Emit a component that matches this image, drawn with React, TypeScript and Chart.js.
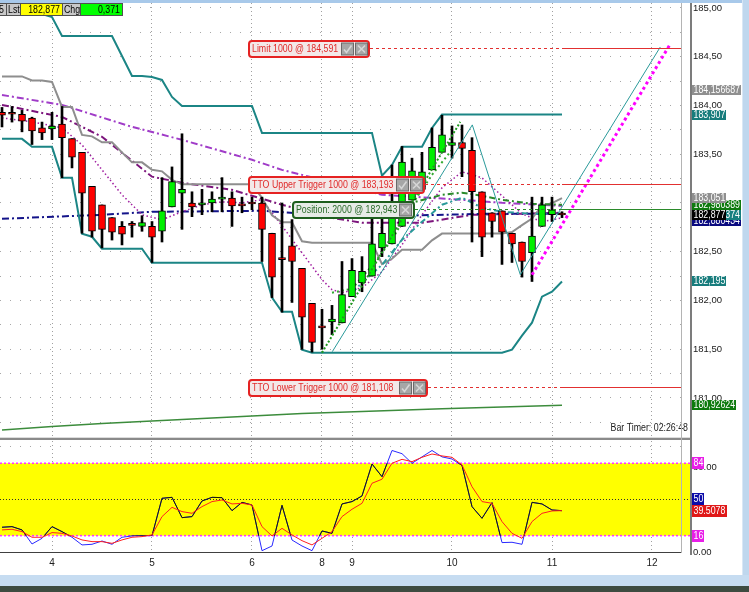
import React, { useEffect, useRef } from 'react';
import { Chart, registerables } from 'chart.js';
Chart.register(...registerables);

const FONT = '"Liberation Sans", Arial, sans-serif';

// ---------------- DATA ----------------
const OPEN = [183.93, 183.92, 183.91, 183.87, 183.77, 183.76, 183.81, 183.66, 183.52, 183.17, 182.98, 182.85, 182.76, 182.78, 182.76, 182.76, 182.71, 182.96, 183.10, 183.00, 182.98, 183.00, 183.04, 183.05, 182.99, 183.00, 183.00, 182.69, 182.43, 182.56, 182.33, 181.97, 181.74, 181.78, 181.77, 182.04, 182.18, 182.25, 182.54, 182.58, 182.76, 183.03, 183.14, 183.34, 183.52, 183.59, 183.62, 183.54, 183.115, 182.90, 182.92, 182.69, 182.60, 182.49, 182.76, 182.88, 182.88];
const HIGH = [183.98, 183.99, 183.95, 183.88, 183.83, 183.93, 183.99, 183.66, 183.52, 183.17, 182.98, 182.85, 182.81, 182.81, 182.87, 182.81, 183.26, 183.37, 183.71, 183.115, 183.14, 183.115, 183.26, 183.115, 183.06, 183.06, 183.06, 182.69, 183.00, 182.83, 182.33, 181.97, 181.91, 181.95, 182.40, 182.43, 182.45, 182.84, 182.84, 183.39, 183.58, 183.46, 183.52, 183.77, 183.90, 183.79, 183.80, 183.67, 183.115, 182.90, 182.92, 182.69, 182.60, 183.06, 183.06, 183.06, 182.91];
const LOW = [183.78, 183.83, 183.73, 183.60, 183.65, 183.65, 183.26, 183.36, 182.69, 182.65, 182.54, 182.62, 182.57, 182.65, 182.71, 182.39, 182.60, 182.96, 182.73, 182.86, 182.88, 182.91, 182.91, 182.76, 182.90, 182.93, 182.40, 182.03, 181.88, 181.98, 181.50, 181.47, 181.50, 181.65, 181.77, 182.04, 182.09, 182.25, 182.45, 182.58, 182.76, 183.03, 183.14, 183.34, 183.52, 183.46, 183.27, 182.60, 182.45, 182.65, 182.37, 182.39, 182.24, 182.195, 182.76, 182.81, 182.85];
const CLOSE = [183.90, 183.91, 183.84, 183.74, 183.72, 183.79, 183.67, 183.47, 183.10, 182.71, 182.73, 182.70, 182.68, 182.77, 182.80, 182.65, 182.92, 183.22, 183.14, 182.96, 183.00, 183.04, 183.06, 182.97, 182.97, 182.99, 182.73, 182.24, 182.42, 182.40, 181.83, 181.57, 181.72, 181.81, 182.06, 182.31, 182.30, 182.58, 182.69, 182.85, 183.42, 183.33, 183.32, 183.57, 183.70, 183.62, 183.56, 183.115, 182.65, 182.81, 182.70, 182.58, 182.40, 182.66, 182.98, 182.93, 182.877];

// Donchian channel (20 bars)
const UPPER = [184.939, 184.939, 184.939, 184.939, 184.939, 184.908, 184.713, 184.713, 184.713, 184.713, 184.713, 184.713, 184.508, 184.303, 184.303, 184.293, 184.262, 184.088, 183.996, 183.996, 183.996, 183.996, 183.996, 183.996, 183.996, 183.996, 183.719, 183.719, 183.719, 183.719, 183.719, 183.719, 183.719, 183.719, 183.719, 183.719, 183.719, 183.719, 183.279, 183.391, 183.576, 183.576, 183.576, 183.770, 183.907, 183.907, 183.907, 183.907, 183.907, 183.907, 183.907, 183.907, 183.907, 183.907, 183.907, 183.907, 183.907];
const LOWER = [183.658, 183.658, 183.658, 183.576, 183.576, 183.576, 183.258, 183.258, 182.684, 182.654, 182.531, 182.531, 182.531, 182.531, 182.531, 182.387, 182.387, 182.387, 182.387, 182.387, 182.387, 182.387, 182.387, 182.387, 182.387, 182.387, 182.387, 182.029, 181.885, 181.885, 181.496, 181.465, 181.465, 181.465, 181.465, 181.465, 181.465, 181.465, 181.465, 181.465, 181.465, 181.465, 181.465, 181.465, 181.465, 181.465, 181.465, 181.465, 181.465, 181.465, 181.465, 181.496, 181.639, 181.773, 182.039, 182.090, 182.195];
const MIDDLE = [184.2985, 184.2985, 184.2985, 184.2575, 184.2575, 184.242, 183.9855, 183.9855, 183.6985, 183.6835, 183.622, 183.622, 183.5195, 183.417, 183.417, 183.340, 183.3245, 183.2375, 183.1915, 183.1915, 183.1915, 183.1915, 183.1915, 183.1915, 183.1915, 183.1915, 183.053, 182.874, 182.802, 182.802, 182.6075, 182.592, 182.592, 182.592, 182.592, 182.592, 182.592, 182.592, 182.372, 182.428, 182.5205, 182.5205, 182.5205, 182.6175, 182.686, 182.686, 182.686, 182.686, 182.686, 182.686, 182.686, 182.7015, 182.773, 182.840, 182.973, 182.9985, 183.051];

// moving averages as [barIndex, price]
const MA_VIOLET = [[0, 184.108], [6, 184.006], [13, 183.781], [18, 183.648], [25, 183.443], [28, 183.340], [34, 183.186], [38, 183.084], [46, 183.033], [50, 183.002], [56, 182.971]];
const MA_PURPLE = [[0, 184.006], [6, 183.883], [10, 183.679], [15, 183.270], [18, 183.207], [23, 183.135], [28, 182.982], [33, 182.848], [36, 182.797], [42, 182.797], [47, 182.879], [56, 182.900]];
const MA_FAST = [[0, 183.873], [3, 183.832], [6, 183.771], [8, 183.596], [10, 183.340], [12, 183.084], [14, 182.879], [16, 182.828], [18, 182.910], [20, 182.982], [22, 183.012], [24, 183.002], [26, 183.033], [28, 182.766], [30, 182.490], [32, 182.213], [33, 182.111], [34, 182.080], [36, 182.131], [38, 182.295], [40, 182.572], [42, 182.879], [44, 183.156], [46, 183.320], [48, 183.258], [50, 183.074], [52, 182.889], [54, 182.807], [56, 182.848]];
const MA_NAVY = [[0, 182.838], [10, 182.879], [15, 182.910], [26, 182.920], [32, 182.879], [40, 182.869], [48, 182.889], [56, 182.889]];
const MA_GREEN = [[35, 182.879], [38, 182.930], [41, 183.002], [44, 183.084], [46, 183.105], [48, 183.074], [50, 183.033], [53, 182.992], [56, 182.982]];
const MA_TEAL = [[35, 182.080], [36, 182.182], [38, 182.366], [40, 182.623], [42, 182.807], [44, 182.982], [46, 183.054], [48, 182.951], [50, 182.910], [53, 182.889], [56, 182.889]];
const MA_GREEN_DOT = [[33, 182.080], [35, 182.121], [37, 182.356], [39, 182.623], [41, 182.982], [43, 183.289], [45, 183.546]];
const MA_LONG = [[0, 180.671], [5, 180.707], [10, 180.738], [18, 180.779], [24, 180.809], [30, 180.840], [36, 180.861], [44, 180.891], [50, 180.907], [56, 180.926]];

// drawn trend lines
const TREND_TEAL = [[33.03, 181.475], [47.03, 183.801], [51.83, 182.264], [65.83, 184.600]];
const TREND_MAGENTA = [[53, 182.264], [66.83, 184.631]];
const TREND_GREEN = [[32, 181.465], [45.83, 183.832]];

// orders
const ORDER_TEXTS = ['Limit 1000 @ 184,591', 'TTO Upper Trigger 1000 @ 183,193', 'TTO Lower Trigger 1000 @ 181,108', 'Position: 2000 @ 182,943'];
const ORDER_PRICES = [184.591, 183.193, 181.108, 182.943];

// axis tags
const TAG_TEXTS = ['184,156687', '183,907', '182,880434', '182,874374', '182,877', '182,980389', '183,051', '182,195', '180,92624'];
const TAG_VALUES = [184.156687, 183.907, 182.880434, 182.874374, 182.877, 182.980389, 183.051, 182.195, 180.92624];

// stochastic
const STOCH_K = [23.9, 24.5, 21.4, 8.2, 13.5, 24.5, 19.8, 14.5, 7.3, 7.9, 11.0, 7.9, 14.5, 15.7, 16.0, 16.0, 51.1, 52.0, 32.9, 33.9, 48.6, 52.0, 51.7, 39.5, 47.3, 44.8, 1.9, 6.3, 44.5, 11.9, 6.3, 1.9, 20.4, 18.2, 45.8, 48.0, 53.3, 83.3, 71.4, 96, 93, 84, 90, 96, 90, 88, 82, 43.3, 32.3, 47.0, 9.5, 9.8, 7.9, 47.3, 45.8, 40.1, 39.5];
const STOCH_D = [21.4, 22, 19.8, 14.5, 14.5, 18.9, 18.2, 15.7, 12, 10.4, 10.4, 8.8, 12, 14.5, 15.1, 16.7, 33.9, 42.6, 38.6, 37, 43.3, 48, 49.5, 45.8, 46.4, 44.8, 24.5, 15.7, 22.9, 16.7, 11.3, 7.3, 13.5, 19.8, 33.9, 40.8, 46.4, 65.2, 69, 84, 87.7, 85.5, 89.6, 92.7, 90.9, 89.6, 82.4, 62, 48, 46.4, 29.2, 18.2, 13.5, 29.2, 37, 39.2, 39.5];
const STOCH_LEVELS = [84, 50, 16];
const IND_TAG_TEXTS = ['84', '50', '39.5078', '16'];
const IND_TAG_VALUES = [84, 50, 39.5078, 16];

const DAY_TICKS = [5, 15, 25, 32, 35, 45, 55, 65];
const DAY_LABELS = ['4', '5', '6', '8', '9', '10', '11', '12'];
const PRICE_TICKS = [180.75, 181, 181.25, 181.5, 181.75, 182, 182.25, 182.5, 182.75, 183, 183.25, 183.5, 183.75, 184, 184.25, 184.5, 184.75, 185];
const IND_TICKS = [0, 40, 80, 100];
const HEADER_TEXTS = ['5', 'Lst', '182,877', 'Chg', '0,371'];
const BAR_TIMER = 'Bar Timer: 02:26:48';

// ---------------- STYLES ----------------
const ORDER_STYLE = [
  { x0: 248, w: 122, icons: 2, line: '#e23030', fill: '#f3e8e8', border: '#e52222', text: '#e02a2a' },
  { x0: 248, w: 177, icons: 2, line: '#e23030', fill: '#f3e8e8', border: '#e52222', text: '#e02a2a' },
  { x0: 248, w: 180, icons: 2, line: '#e23030', fill: '#f3e8e8', border: '#e52222', text: '#e02a2a' },
  { x0: 292, w: 123, icons: 1, line: '#2a8a2a', fill: '#e6ebe6', border: '#1e5e1e', text: '#2a6a2a' },
];
const TAG_STYLE = [
  { bg: '#8f8f8f', w: 49, dy: 0 }, { bg: '#177c7c', w: 34, dy: 0 }, { bg: '#0a0a80', w: 49, dy: 6 },
  { bg: '#178080', w: 49, dy: 0 }, { bg: '#000000', w: 34, dy: 0 }, { bg: '#0e7a0e', w: 49, dy: 0 },
  { bg: '#8f8f8f', w: 34, dy: 0 }, { bg: '#177c7c', w: 34, dy: 0 }, { bg: '#0e7a0e', w: 44, dy: 0 },
];
const IND_TAG_STYLE = [{ bg: '#e81ee8', w: 12 }, { bg: '#0c0ca8', w: 12 }, { bg: '#e01818', w: 35 }, { bg: '#e81ee8', w: 12 }];
const HEADER_CELLS = [
  { x0: -4, x1: 6, bg: '#c8c8c8', align: 'right' }, { x0: 6, x1: 20, bg: '#c8c8c8', align: 'left' },
  { x0: 20, x1: 62, bg: '#ffff00', align: 'right' }, { x0: 62, x1: 80, bg: '#c8c8c8', align: 'left' },
  { x0: 80, x1: 122, bg: '#00ff00', align: 'right' },
];

const X_MIN = -0.2;
const X_MAX = 67.9;

// ---------------- HELPERS ----------------
function drawText(ctx: CanvasRenderingContext2D, s: string, x: number, y: number, color: string, align = 'left', size = 10, sx = 0.88) {
  ctx.save();
  ctx.font = `${size}px ${FONT}`;
  ctx.fillStyle = color;
  ctx.textBaseline = 'middle';
  ctx.textAlign = 'left';
  const w = ctx.measureText(s).width * sx;
  const x0 = align === 'right' ? x - w : align === 'center' ? x - w / 2 : x;
  ctx.translate(x0, y);
  ctx.scale(sx, 1);
  ctx.fillText(s, 0, 0);
  ctx.restore();
}

function rrect(ctx: CanvasRenderingContext2D, x: number, y: number, w: number, h: number, r: number) {
  ctx.beginPath();
  ctx.moveTo(x + r, y);
  ctx.lineTo(x + w - r, y);
  ctx.arcTo(x + w, y, x + w, y + r, r);
  ctx.lineTo(x + w, y + h - r);
  ctx.arcTo(x + w, y + h, x + w - r, y + h, r);
  ctx.lineTo(x + r, y + h);
  ctx.arcTo(x, y + h, x, y + h - r, r);
  ctx.lineTo(x, y + r);
  ctx.arcTo(x, y, x + r, y, r);
  ctx.closePath();
}

function drawIcon(ctx: CanvasRenderingContext2D, x: number, y: number, kind: string) {
  ctx.save();
  ctx.fillStyle = '#a6a6a6';
  ctx.strokeStyle = '#6a6a6a';
  ctx.lineWidth = 1;
  ctx.fillRect(x + 0.5, y + 0.5, 12, 12);
  ctx.strokeRect(x + 0.5, y + 0.5, 12, 12);
  ctx.strokeStyle = '#d6d6d6';
  ctx.lineWidth = 1.6;
  ctx.beginPath();
  if (kind === 'check') {
    ctx.moveTo(x + 3, y + 7); ctx.lineTo(x + 5.5, y + 10); ctx.lineTo(x + 10.5, y + 3);
  } else {
    ctx.moveTo(x + 3, y + 3); ctx.lineTo(x + 10, y + 10); ctx.moveTo(x + 10, y + 3); ctx.lineTo(x + 3, y + 10);
  }
  ctx.stroke();
  ctx.restore();
}

function drawTag(ctx: CanvasRenderingContext2D, x: number, y: number, w: number, bg: string, s: string) {
  ctx.save();
  ctx.fillStyle = bg;
  ctx.fillRect(x, Math.round(y - 5), w, 10);
  ctx.restore();
  drawText(ctx, s, x + 1.5, Math.round(y - 5) + 5.3, '#ffffff');
}

const pts = (arr: number[][]) => arr.map(([x, y]) => ({ x, y }));
const series = (arr: number[]) => arr.map((y, x) => ({ x, y }));

function lineDS(data: any[], color: string, width: number, dash: number[], order: number, extra: any = {}) {
  return {
    type: 'line', data, borderColor: color, borderWidth: width, borderDash: dash,
    pointRadius: 0, pointHoverRadius: 0, tension: 0, fill: false, order, borderCapStyle: 'butt', ...extra,
  };
}

const DASHDOT = [7, 3, 2, 3];

function priceConfig(): any {
  const idx = OPEN.map((_, i) => i);
  return {
    type: 'bar',
    data: {
      datasets: [
        { type: 'bar', data: idx.map((i) => ({ x: i, y: [LOW[i], HIGH[i]] })), backgroundColor: '#000000', barThickness: 2, grouped: false, order: 1 },
        {
          type: 'bar', data: idx.map((i) => ({ x: i, y: [OPEN[i], CLOSE[i]] })),
          backgroundColor: idx.map((i) => (CLOSE[i] >= OPEN[i] ? '#00f000' : '#ff0000')),
          borderColor: '#000000', borderWidth: 1, borderSkipped: false, barThickness: 7, minBarLength: 2, grouped: false, order: 0,
        },
        lineDS(pts(MA_LONG), '#3c8c3c', 1.5, [], 14),
        lineDS(pts(MA_NAVY), '#14148a', 2, DASHDOT, 13),
        lineDS(pts(MA_VIOLET), '#a03cc8', 2, DASHDOT, 13),
        lineDS(pts(MA_PURPLE), '#7c147c', 2, DASHDOT, 13),
        lineDS(pts(MA_FAST), '#a01ea0', 1.5, [1.5, 2.5], 12),
        lineDS(series(UPPER), '#1b8585', 2, [], 11),
        lineDS(series(LOWER), '#1b8585', 2, [], 11),
        lineDS(series(MIDDLE), '#8e8e8e', 2, [], 11),
        lineDS(pts(MA_TEAL), '#2a9a9a', 2, [6, 3, 2, 3], 10),
        lineDS(pts(MA_GREEN), '#2a8a2a', 2, [6, 3, 2, 3], 10),
        lineDS(pts(MA_GREEN_DOT), '#33aa33', 2, [2, 3], 10),
        lineDS(pts(TREND_TEAL), '#2a9a9a', 1, [], -1),
        lineDS(pts(TREND_GREEN), '#1f9a1f', 2, [2, 2], -1),
        lineDS(pts(TREND_MAGENTA), '#ff00ff', 3, [3, 3], -2),
      ],
    },
    options: {
      animation: false, responsive: false, maintainAspectRatio: false, devicePixelRatio: 1,
      layout: { padding: { top: 3, bottom: 3, left: 0, right: 0 } },
      plugins: { legend: { display: false }, tooltip: { enabled: false } },
      scales: {
        x: {
          type: 'linear', min: X_MIN, max: X_MAX, offset: false,
          afterBuildTicks: (s: any) => { s.ticks = DAY_TICKS.map((v) => ({ value: v })); },
          ticks: { display: false },
          grid: { color: '#a0a0a0', drawTicks: false, lineWidth: 1, offset: false },
          border: { display: false, dash: [1, 3] },
        },
        y: {
          type: 'linear', position: 'right', min: 180.58974, max: 185.05128,
          afterBuildTicks: (s: any) => { s.ticks = PRICE_TICKS.map((v) => ({ value: v })); },
          ticks: {
            padding: 12, color: '#202020', font: { family: FONT, size: 9.5 },
            callback: (v: number) => (Math.abs(v * 2 - Math.round(v * 2)) < 1e-6 ? v.toFixed(2).replace('.', ',') : ''),
          },
          grid: { color: '#a8a8a8', drawTicks: false, lineWidth: 1 },
          border: { display: false, dash: [1, 9] },
          afterFit: (s: any) => { s.width = 61; s.paddingTop = 0; s.paddingBottom = 0; },
        },
      },
    },
    plugins: [
      {
        id: 'priceOverlay',
        afterDatasetsDraw(chart: any) {
          const ctx = chart.ctx as CanvasRenderingContext2D;
          const ys = chart.scales.y, xs = chart.scales.x, area = chart.chartArea;
          const xLast = xs.getPixelForValue(OPEN.length - 1);
          ORDER_TEXTS.forEach((txt, i) => {
            const st = ORDER_STYLE[i];
            const y = Math.round(ys.getPixelForValue(ORDER_PRICES[i])) + 0.5;
            const x1 = st.x0 + st.w;
            ctx.save();
            ctx.strokeStyle = st.line; ctx.lineWidth = 1;
            ctx.setLineDash([3, 3]);
            ctx.beginPath(); ctx.moveTo(x1, y); ctx.lineTo(xLast, y); ctx.stroke();
            ctx.setLineDash([]);
            ctx.beginPath(); ctx.moveTo(xLast, y); ctx.lineTo(area.right, y); ctx.stroke();
            const by = y - 7.5;
            rrect(ctx, st.x0 + 1, by, st.w - 2, 16, 3);
            ctx.fillStyle = st.fill; ctx.fill();
            ctx.lineWidth = 2; ctx.strokeStyle = st.border; ctx.stroke();
            ctx.restore();
            drawText(ctx, txt, st.x0 + 4, by + 8.3, st.text);
            if (st.icons === 2) {
              drawIcon(ctx, x1 - 29, by + 1.5, 'check');
              drawIcon(ctx, x1 - 15, by + 1.5, 'x');
            } else {
              drawIcon(ctx, x1 - 16, by + 1.5, 'x');
            }
          });
        },
        afterDraw(chart: any) {
          const ctx = chart.ctx as CanvasRenderingContext2D;
          const ys = chart.scales.y;
          TAG_TEXTS.forEach((t, i) => {
            const st = TAG_STYLE[i];
            drawTag(ctx, 692, ys.getPixelForValue(TAG_VALUES[i]) + st.dy, st.w, st.bg, t);
          });
          HEADER_CELLS.forEach((c, i) => {
            ctx.save();
            ctx.fillStyle = c.bg;
            ctx.fillRect(c.x0, 3, c.x1 - c.x0, 13);
            ctx.strokeStyle = '#505050'; ctx.lineWidth = 1;
            ctx.strokeRect(c.x0 + 0.5, 3.5, c.x1 - c.x0, 12);
            ctx.restore();
            drawText(ctx, HEADER_TEXTS[i], c.align === 'right' ? c.x1 - 2 : c.x0 + 2, 9.8, '#000000', c.align);
          });
          drawText(ctx, BAR_TIMER, 688, 428, '#202020', 'right');
        },
      },
    ],
  };
}

function indConfig(): any {
  return {
    type: 'line',
    data: {
      datasets: [
        lineDS(series(STOCH_K), '#2a2aff', 1, [], 3),
        lineDS(series(STOCH_K), '#1a1a00', 1, [], 2, { bandClip: true }),
        lineDS(series(STOCH_D), '#ff2020', 1, [], 1),
      ],
    },
    options: {
      animation: false, responsive: false, maintainAspectRatio: false, devicePixelRatio: 1,
      layout: { padding: { top: 0, bottom: 0, left: 0, right: 0 } },
      plugins: { legend: { display: false }, tooltip: { enabled: false } },
      scales: {
        x: {
          type: 'linear', min: X_MIN, max: X_MAX, offset: false,
          afterBuildTicks: (s: any) => { s.ticks = DAY_TICKS.map((v) => ({ value: v })); },
          ticks: {
            padding: 5, autoSkip: false, maxRotation: 0, color: '#202020', font: { family: FONT, size: 10 },
            callback: (v: number) => { const k = DAY_TICKS.indexOf(v); return k >= 0 ? DAY_LABELS[k] : ''; },
          },
          grid: { color: '#a0a0a0', drawTicks: false, lineWidth: 1 },
          border: { display: true, color: '#404040', width: 1, dash: [1, 3] },
          afterFit: (s: any) => { s.height = 22.3; s.paddingLeft = 0; s.paddingRight = 0; },
        },
        y: {
          type: 'linear', position: 'right', min: 0, max: 104.91,
          afterBuildTicks: (s: any) => { s.ticks = IND_TICKS.map((v) => ({ value: v })); },
          ticks: {
            padding: 12, color: '#202020', font: { family: FONT, size: 9.5 },
            callback: (v: number) => (v === 100 ? '' : v.toFixed(2)),
          },
          grid: { color: '#a8a8a8', drawTicks: false, lineWidth: 1 },
          border: { display: false, dash: [1, 9] },
          afterFit: (s: any) => { s.width = 61; s.paddingTop = 0; s.paddingBottom = 0; },
        },
      },
    },
    plugins: [
      {
        id: 'indOverlay',
        beforeDatasetsDraw(chart: any) {
          const ctx = chart.ctx as CanvasRenderingContext2D;
          const ys = chart.scales.y, area = chart.chartArea;
          const yTop = ys.getPixelForValue(STOCH_LEVELS[0]);
          const yBot = ys.getPixelForValue(STOCH_LEVELS[2]);
          ctx.save();
          ctx.fillStyle = '#ffff00';
          ctx.fillRect(area.left, yTop, area.right + 9 - area.left, yBot - yTop);
          ctx.lineWidth = 1.5;
          ctx.strokeStyle = '#ff33ff';
          ctx.setLineDash([2, 2]);
          [STOCH_LEVELS[0], STOCH_LEVELS[2]].forEach((v) => {
            const y = ys.getPixelForValue(v);
            ctx.beginPath(); ctx.moveTo(area.left, y); ctx.lineTo(area.right + 9, y); ctx.stroke();
          });
          ctx.lineWidth = 1;
          ctx.strokeStyle = '#303030';
          ctx.setLineDash([1, 2]);
          const ym = Math.round(ys.getPixelForValue(STOCH_LEVELS[1])) + 0.5;
          ctx.beginPath(); ctx.moveTo(area.left, ym); ctx.lineTo(area.right + 9, ym); ctx.stroke();
          ctx.restore();
        },
        beforeDatasetDraw(chart: any, args: any) {
          const ds = chart.data.datasets[args.index];
          if (ds.bandClip) {
            const ctx = chart.ctx as CanvasRenderingContext2D;
            const ys = chart.scales.y, area = chart.chartArea;
            const yTop = ys.getPixelForValue(STOCH_LEVELS[0]);
            const yBot = ys.getPixelForValue(STOCH_LEVELS[2]);
            ctx.save();
            ctx.beginPath();
            ctx.rect(area.left, yTop, area.right - area.left, yBot - yTop);
            ctx.clip();
          }
        },
        afterDatasetDraw(chart: any, args: any) {
          const ds = chart.data.datasets[args.index];
          if (ds.bandClip) chart.ctx.restore();
        },
        afterDraw(chart: any) {
          const ctx = chart.ctx as CanvasRenderingContext2D;
          const ys = chart.scales.y;
          IND_TAG_TEXTS.forEach((t, i) => {
            const st = IND_TAG_STYLE[i];
            const y = ys.getPixelForValue(IND_TAG_VALUES[i]);
            ctx.save();
            ctx.fillStyle = st.bg;
            ctx.fillRect(692, Math.round(y - 6), st.w, 12);
            ctx.restore();
            drawText(ctx, t, 693.5, Math.round(y - 6) + 6.3, '#ffffff');
          });
        },
      },
    ],
  };
}

export default function App() {
  const priceRef = useRef<HTMLCanvasElement>(null);
  const indRef = useRef<HTMLCanvasElement>(null);
  useEffect(() => {
    const c1 = new Chart(priceRef.current as HTMLCanvasElement, priceConfig());
    const c2 = new Chart(indRef.current as HTMLCanvasElement, indConfig());
    return () => { c1.destroy(); c2.destroy(); };
  }, []);
  const abs = (s: any) => ({ position: 'absolute', ...s } as React.CSSProperties);
  return (
    <div style={{ position: 'fixed', left: 0, top: 0, width: 749, height: 592, background: '#ffffff', overflow: 'hidden' }}>
      <canvas ref={priceRef} width={742} height={441} style={abs({ left: 0, top: 0, width: 742, height: 441 })} />
      <canvas ref={indRef} width={742} height={134} style={abs({ left: 0, top: 441, width: 742, height: 134 })} />
      <div style={abs({ left: 0, top: 437, width: 690, height: 1, background: '#dcdcdc' })} />
      <div style={abs({ left: 0, top: 438, width: 690, height: 2, background: '#8a8a8a' })} />
      <div style={abs({ left: 681, top: 3, width: 1, height: 550, background: '#b4b4b4' })} />
      <div style={abs({ left: 690, top: 0, width: 2, height: 555, background: '#7c7c7c' })} />
      <div style={abs({ left: 0, top: 0, width: 749, height: 3, background: '#a8c9ea' })} />
      <div style={abs({ left: 742, top: 0, width: 7, height: 586, background: '#bfd7ee', borderLeft: '1px solid #d9e7f5' })} />
      <div style={abs({ left: 0, top: 575, width: 749, height: 11, background: '#c6dcf1' })} />
      <div style={abs({ left: 0, top: 586, width: 749, height: 6, background: '#3d4b40' })} />
    </div>
  );
}
